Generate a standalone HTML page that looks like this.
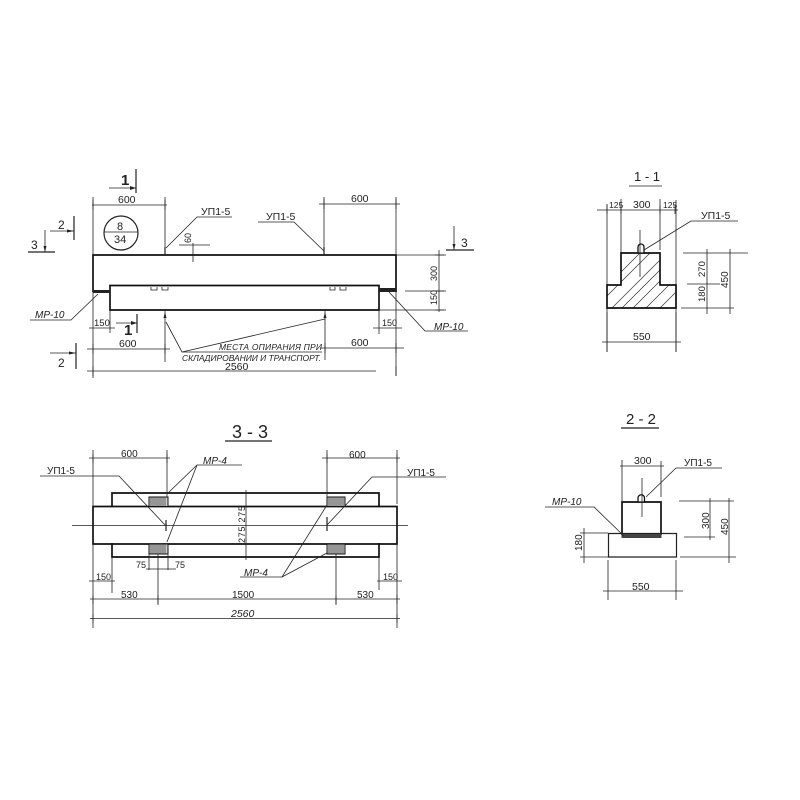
<!DOCTYPE html>
<html><head><meta charset="utf-8"><style>
html,body{margin:0;padding:0;background:#fff}
svg{display:block}
text{font-family:"Liberation Sans",sans-serif;fill:#222}
.t{fill:none;stroke:#222;stroke-width:.8}
.k{fill:none;stroke:#111;stroke-width:1.7}
.m{fill:none;stroke:#222;stroke-width:1.2}
.h{fill:none;stroke:#333;stroke-width:.7}
</style></head><body>
<svg width="800" height="800" viewBox="0 0 800 800" xmlns="http://www.w3.org/2000/svg" font-size="10">
<defs><clipPath id="c1"><path d="M607 285H621V253H660V285H676V308H607Z"/></clipPath></defs>
<!-- FRONT VIEW -->
<path class="k" d="M93 292V255H396V292"/>
<path class="k" d="M110 292V285.5H379V310H110V292"/>
<path d="M93 290H110V293H93ZM379 288H396V292H379Z" fill="#222"/>
<path class="t" d="M151 287v3h6v-3M162 287v3h6v-3M330 287v3h5v-3M340 287v3h6v-3"/>
<path class="t" d="M92 205H167M93 197V255M165 197V255M319 204H400M324 197V255M396 197V255"/>
<path class="t" d="M93 200v10M165 200v10M324 199v10M396 199v10"/>
<text x="118" y="203" font-size="10.5">600</text>
<text x="351" y="202" font-size="10.5">600</text>
<path class="m" d="M136 169V193"/><path class="t" d="M109 188H136"/><path d="M130 186l6 2-6 2z" fill="#222"/>
<text x="121" y="185" font-size="15" font-weight="bold">1</text>
<circle class="m" cx="121" cy="233" r="17"/><path class="t" d="M104 232H138"/>
<text x="117" y="230" font-size="11">8</text><text x="114" y="243" font-size="11">34</text>
<path class="m" d="M74 216V240"/><path class="t" d="M50 231H74"/>
<path d="M67 229.500l7 1.500-7 1.500z" fill="#222"/>
<text x="58" y="229" font-size="12">2</text>
<path class="m" d="M28 252H55"/><path class="t" d="M45 230V252"/><path d="M43.500 246l1.500 6 1.500-6z" fill="#222"/>
<text x="31" y="249" font-size="12">3</text>
<path class="t" d="M166 248L197 217H232"/><text x="201" y="215" font-size="10.5">УП1-5</text>
<path class="t" d="M258 222H294L324 251"/><text x="266" y="220" font-size="10.5">УП1-5</text>
<path class="m" d="M165 247V255M324 247V255"/>
<path class="t" d="M179 245H210M193 243V262"/><text transform="translate(191,243) rotate(-90)" font-size="9">60</text>
<path class="t" d="M454 226V250"/><path class="m" d="M446 250H474"/><path d="M452.500 244l1.500 6 1.500-6z" fill="#222"/>
<text x="461" y="247" font-size="12">3</text>
<path class="t" d="M396 255H446M405 291H446M379 310H446M439 250V312"/>
<path class="t" d="M435 255h9M435 291h9M435 310h9"/>
<text transform="translate(437,281) rotate(-90)" font-size="9">300</text>
<text transform="translate(437,305) rotate(-90)" font-size="9">150</text>
<path class="t" d="M30 320H71L98 294"/><text x="35" y="318" font-size="10" font-style="italic">МР-10</text>
<path class="t" d="M389 292L425 331H468"/><text x="434" y="330" font-size="10" font-style="italic">МР-10</text>
<path class="t" d="M93 292V378M396 292V376"/>
<path class="t" d="M89 328H115M110 310V333M373 328H402M379 310V334"/>
<text x="94" y="326" font-size="9.500">150</text><text x="382" y="326" font-size="9">150</text>
<path class="m" d="M137 314V333"/><path class="t" d="M116 323H137"/><path d="M131 321l6 2-6 2z" fill="#222"/>
<text x="124" y="335" font-size="15" font-weight="bold">1</text>
<path class="t" d="M87 349H170M165 311V362M325 311V360M320 348H404"/>
<path class="t" d="M93 344v10M165 344v10M325 343v10M396 343v10"/>
<text x="119" y="347" font-size="10.5">600</text><text x="351" y="346" font-size="10.5">600</text>
<path class="t" d="M87 371H376"/><path class="t" d="M93 366v10M396 366v10"/>
<text x="225" y="370" font-size="10.5">2560</text>
<path class="m" d="M76 343V369"/><path class="t" d="M50 353H76"/><path d="M69 351.500l7 1.500-7 1.500z" fill="#222"/>
<text x="58" y="367" font-size="12">2</text>
<path class="t" d="M166 322L182 352H322"/><path class="t" d="M182 352L325 319"/>
<path d="M163.500 318l1.500-6 1.500 6zM323.500 318l1.500-6 1.500 6z" fill="#222"/>
<text x="219" y="350" font-size="8.500" font-style="italic" textLength="103" lengthAdjust="spacing">МЕСТА ОПИРАНИЯ ПРИ</text>
<text x="182" y="361" font-size="8.500" font-style="italic" textLength="139" lengthAdjust="spacing">СКЛАДИРОВАНИИ И ТРАНСПОРТ.</text>

<!-- 1-1 -->
<text x="634" y="181" font-size="13">1 - 1</text><path class="t" d="M629 186H662"/>
<path class="t" d="M597 210H678M607 204V352M621 199V253M660 199V250M676 200V352"/>
<path class="t" d="M607 205v9M621 205v9M660 205v9M675 205v9"/>
<text x="609" y="208" font-size="8.500">125</text><text x="633" y="208" font-size="10.500">300</text><text x="663" y="208" font-size="8.500">125</text>
<g clip-path="url(#c1)"><path class="h" d="M600 303L660 243M612 308L672 248M622 308L682 248M633 308L693 248M646 308L706 248M660 308L720 248M595 298L650 243"/></g>
<path class="k" d="M607 285H621V253H660V285H676V308H607Z"/>
<path d="M638 253v-6a3 3 0 0 1 6 0v6z" fill="#fff" stroke="#111" stroke-width="1.300"/>
<path class="t" d="M640 230V277"/>
<path class="t" d="M644 250L691 221H738"/><text x="701" y="219" font-size="10.5">УП1-5</text>
<path class="t" d="M683 253H748M687 284H720M681 308H732M707 249V314M730 249V314M702 253h9M702 284h9M702 308h9M725 253h9M725 308h9"/>
<text transform="translate(705,277) rotate(-90)" font-size="9.500">270</text>
<text transform="translate(705,302) rotate(-90)" font-size="9.500">180</text>
<text transform="translate(728,288) rotate(-90)" font-size="10">450</text>
<path class="t" d="M602 342H681M607 312V352M676 312V352M607 337v9M676 337v9"/>
<text x="633" y="340" font-size="10.5">550</text>

<!-- 3-3 -->
<text x="232" y="438" font-size="18">3 - 3</text><path class="m" d="M225 441H272"/>
<path class="k" d="M112 506V493H379V506M112 543V557H379V543"/>
<path class="k" d="M93 506.500H397V544H93Z"/>
<path class="t" d="M72 525.500H408"/>
<path d="M149 497h19v9.500h-19zM149 544h19v10h-19zM327 497h18v9.500h-18zM327 544h18v10h-18z" fill="#ccc" stroke="#111" stroke-width="1"/>
<path class="h" d="M151 497v9M153 497v9M155 497v9M157 497v9M159 497v9M161 497v9M163 497v9M165 497v9M151 544v10M153 544v10M155 544v10M157 544v10M159 544v10M161 544v10M163 544v10M165 544v10M329 497v9M331 497v9M333 497v9M335 497v9M337 497v9M339 497v9M341 497v9M343 497v9M329 544v10M331 544v10M333 544v10M335 544v10M337 544v10M339 544v10M341 544v10M343 544v10"/>
<path class="t" d="M89 458H170M93 450V506M167 450V497M93 544V628M322 458H400M327 450V497M397 450V504M397 544V628"/>
<path class="t" d="M93 454v9M167 454v9M327 454v9M397 454v9"/>
<text x="121" y="457" font-size="10">600</text><text x="349" y="458" font-size="10">600</text>
<path class="t" d="M40 476H119L166 526"/><path class="m" d="M166 520V531M327 517V531"/>
<text x="47" y="474" font-size="10">УП1-5</text>
<path class="t" d="M327 525L372 477H446"/><text x="407" y="476" font-size="10">УП1-5</text>
<path class="t" d="M167 494L197 465H242M197 465L167 542"/><text x="203" y="464" font-size="10" font-style="italic">МР-4</text>
<path class="t" d="M240 577H282L327 505M282 577L327 553"/><text x="244" y="576" font-size="10" font-style="italic">МР-4</text>
<path class="t" d="M246 490V560"/>
<text transform="translate(245,543) rotate(-90)" font-size="9" textLength="37" lengthAdjust="spacing">275 275</text>
<path class="t" d="M149 554V570M158 554V605M168 554V570M146 569H176M336 554V605"/>
<text x="136" y="568" font-size="9">75</text><text x="175" y="568" font-size="9">75</text>
<path class="t" d="M89 581H115M112 557V593M377 581H402M379 557V590"/>
<text x="96" y="580" font-size="9">150</text><text x="383" y="580" font-size="9">150</text>
<path class="t" d="M90 599H400"/><path class="t" d="M93 595v9M158 595v9M336 595v9M397 595v9"/>
<text x="121" y="598" font-size="10">530</text><text x="232" y="598" font-size="10">1500</text><text x="357" y="598" font-size="10">530</text>
<path class="t" d="M90 618.500H400"/><path class="t" d="M93 614v9M397 614v9"/>
<text x="231" y="617" font-size="10.5" font-style="italic">2560</text>

<!-- 2-2 -->
<text x="626" y="424" font-size="15">2 - 2</text><path class="m" d="M621 428H659"/>
<path class="k" d="M622 535V502H661V535"/>
<path class="m" d="M608.500 533.500H676.500V557H608.500Z"/>
<path d="M621.500 534h40v4h-40z" fill="#444"/>
<path d="M638 502v-4a3 3 0 0 1 6.500 0v4z" fill="#fff" stroke="#111" stroke-width="1.300"/>
<path class="t" d="M642 478V517"/>
<path class="t" d="M620 466H664M622 460V502M661 464V497M622 461v9M661 461v9"/>
<text x="634" y="464" font-size="10.5">300</text>
<path class="t" d="M646 497L676 468H722"/><text x="684" y="466" font-size="10">УП1-5</text>
<path class="t" d="M545 507H594L624 536"/><text x="552" y="505" font-size="10" font-style="italic">МР-10</text>
<path class="t" d="M584 533H608M584 557H608M584 528V563M580 533h9M580 557h9"/>
<text transform="translate(582,551) rotate(-90)" font-size="10">180</text>
<path class="t" d="M679 501H732M684 537H712M680 557H736M710 498V540M729 498V563M706 501h9M706 537h9M725 501h9M725 557h9"/>
<text transform="translate(709,529) rotate(-90)" font-size="10">300</text>
<text transform="translate(728,535) rotate(-90)" font-size="10">450</text>
<path class="t" d="M603 591H683M608 560V600M676 560V600M608 586v9M676 586v9"/>
<text x="632" y="590" font-size="10.5">550</text>
</svg>
</body></html>
